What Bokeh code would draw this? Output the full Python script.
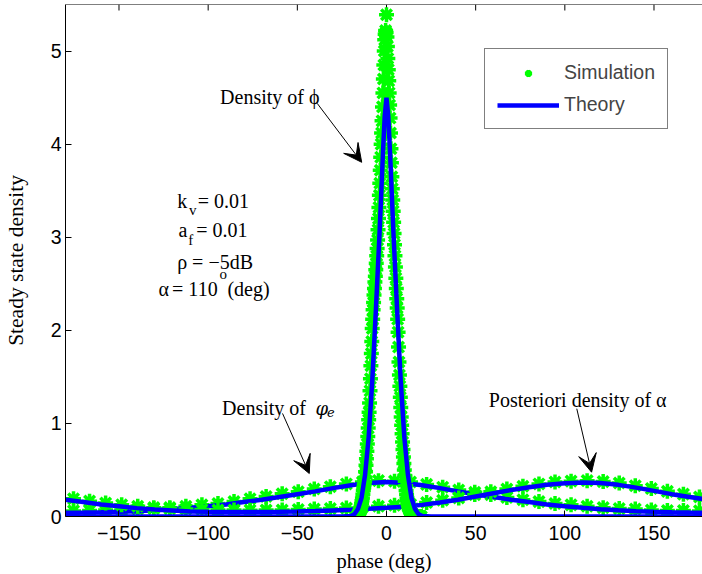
from bokeh.plotting import figure
from bokeh.models import (Range1d, FixedTicker, Legend, LegendItem,
                          Arrow, VeeHead, Label, Span)
from bokeh.embed import file_html
from bokeh.resources import INLINE

# ---------------- data ----------------
x_ticks = [-150, -100, -50, 0, 50, 100, 150]
x_tick_labels = ["\u2212150", "\u2212100", "\u221250", "0", "50", "100", "150"]
y_ticks = [0, 1, 2, 3, 4, 5]
Y_MAX = 5.5

# Theory: density of phi (narrow peak)
phi_th_x = [-180, -40, -25, -20, -18, -16, -14, -12, -10, -8, -6, -5, -4, -3, -2, -1, 0,
            1, 2, 3, 4, 5, 6, 8, 10, 12, 14, 16, 18, 20, 25, 40, 180]
phi_th_y = [0, 0, 0, 0.005, 0.025, 0.08, 0.2, 0.45, 0.85, 1.45, 2.2, 2.6, 3.0, 3.45, 3.9, 4.3, 4.5,
            4.3, 3.9, 3.45, 3.0, 2.6, 2.2, 1.45, 0.85, 0.45, 0.2, 0.08, 0.025, 0.005, 0, 0, 0]

# Theory: density of phi_e and posterior density of alpha
th_x = [-180, -170, -160, -150, -140, -130, -120, -110, -100, -90, -80, -70, -60, -50, -40,
        -30, -20, -10, 0, 10, 20, 30, 40, 50, 60, 70, 80, 90, 100, 110, 120, 130, 140, 150,
        160, 170, 180]
phie_th_y = [0.04, 0.042, 0.045, 0.05, 0.057, 0.066, 0.078, 0.093, 0.11, 0.13, 0.155, 0.18,
             0.21, 0.24, 0.27, 0.305, 0.335, 0.36, 0.37, 0.36, 0.335, 0.305, 0.27, 0.24, 0.21,
             0.18, 0.155, 0.13, 0.11, 0.093, 0.078, 0.066, 0.057, 0.05, 0.045, 0.042, 0.04]
alpha_th_y = [0.18, 0.155, 0.13, 0.11, 0.09, 0.075, 0.065, 0.055, 0.05, 0.047, 0.047, 0.048,
              0.05, 0.053, 0.058, 0.065, 0.072, 0.082, 0.093, 0.105, 0.125, 0.15, 0.18, 0.215,
              0.25, 0.285, 0.315, 0.34, 0.357, 0.365, 0.36, 0.34, 0.31, 0.275, 0.24, 0.21, 0.18]

# Simulation: histogram bin centres (9 deg bins)
sim_x = [-175.5, -166.5, -157.5, -148.5, -139.5, -130.5, -121.5, -112.5, -103.5, -94.5,
         -85.5, -76.5, -67.5, -58.5, -49.5, -40.5, -31.5, -22.5, -13.5, -4.5,
         4.5, 13.5, 22.5, 31.5, 40.5, 49.5, 58.5, 67.5, 76.5, 85.5,
         94.5, 103.5, 112.5, 121.5, 130.5, 139.5, 148.5, 157.5, 166.5, 175.5]
phie_sim_y = [0.06, 0.065, 0.07, 0.07, 0.08, 0.085, 0.095, 0.11, 0.125, 0.14,
              0.16, 0.19, 0.215, 0.245, 0.265, 0.295, 0.32, 0.35, 0.37, 0.385,
              0.38, 0.37, 0.345, 0.315, 0.285, 0.26, 0.235, 0.205, 0.18, 0.16,
              0.14, 0.125, 0.11, 0.095, 0.085, 0.08, 0.07, 0.065, 0.065, 0.06]
alpha_sim_y = [0.19, 0.165, 0.145, 0.125, 0.11, 0.095, 0.085, 0.08, 0.075, 0.07,
               0.07, 0.068, 0.07, 0.07, 0.075, 0.08, 0.085, 0.09, 0.1, 0.11,
               0.12, 0.13, 0.15, 0.175, 0.2, 0.235, 0.265, 0.295, 0.325, 0.35,
               0.37, 0.38, 0.385, 0.375, 0.36, 0.33, 0.3, 0.27, 0.24, 0.21]

# Simulation: density of phi (0.25 deg bins near the peak)
phi_sim_x = [-16.5, -16.25, -16.0, -15.75, -15.5, -15.25, -15.0, -14.75, -14.5, -14.25,
             -14.0, -13.75, -13.5, -13.25, -13.0, -12.75, -12.5, -12.25, -12.0, -11.75,
             -11.5, -11.25, -11.0, -10.75, -10.5, -10.25, -10.0, -9.75, -9.5, -9.25,
             -9.0, -8.75, -8.5, -8.25, -8.0, -7.75, -7.5, -7.25, -7.0, -6.75,
             -6.5, -6.25, -6.0, -5.75, -5.5, -5.25, -5.0, -4.75, -4.5, -4.25,
             -4.0, -3.75, -3.5, -3.25, -3.0, -2.75, -2.5, -2.25, -2.0, -1.75,
             -1.5, -1.25, -1.0, -0.75, -0.5, -0.25, 0.0, 0.25, 0.5, 0.75,
             1.0, 1.25, 1.5, 1.75, 2.0, 2.25, 2.5, 2.75, 3.0, 3.25,
             3.5, 3.75, 4.0, 4.25, 4.5, 4.75, 5.0, 5.25, 5.5, 5.75,
             6.0, 6.25, 6.5, 6.75, 7.0, 7.25, 7.5, 7.75, 8.0, 8.25,
             8.5, 8.75, 9.0, 9.25, 9.5, 9.75, 10.0, 10.25, 10.5, 10.75,
             11.0, 11.25, 11.5, 11.75, 12.0, 12.25, 12.5, 12.75, 13.0, 13.25,
             13.5, 13.75, 14.0, 14.25, 14.5, 14.75, 15.0, 15.25, 15.5, 15.75,
             16.0, 16.25, 16.5, 16.75, 17.0, 17.25, 17.5, 17.75, 18.0, 18.25,
             18.5, 18.75, 19.0, 19.25, 19.5]
phi_sim_y = [0.0, 0.01, 0.01, 0.02, 0.03, 0.04, 0.05, 0.07, 0.09, 0.11,
             0.14, 0.17, 0.2, 0.24, 0.28, 0.31, 0.34, 0.38, 0.42, 0.48,
             0.55, 0.62, 0.7, 0.78, 0.86, 0.95, 1.04, 1.12, 1.22, 1.35,
             1.48, 1.62, 1.75, 1.88, 2.02, 2.12, 2.22, 2.3, 2.38, 2.45,
             2.52, 2.58, 2.65, 2.72, 2.8, 2.88, 2.97, 3.08, 3.2, 3.32,
             3.45, 3.58, 3.72, 3.86, 4.0, 4.12, 4.25, 4.4, 4.55, 4.7,
             4.85, 5.0, 5.12, 5.18, 5.22, 5.2, 5.39, 5.15, 5.05, 4.92,
             4.8, 4.68, 4.55, 4.42, 4.28, 4.12, 3.95, 3.8, 3.65, 3.52,
             3.4, 3.28, 3.16, 3.04, 2.92, 2.8, 2.68, 2.56, 2.45, 2.34,
             2.24, 2.12, 1.98, 1.82, 1.66, 1.52, 1.4, 1.28, 1.17, 1.07,
             0.98, 0.89, 0.8, 0.72, 0.64, 0.57, 0.5, 0.44, 0.38, 0.33,
             0.28, 0.24, 0.2, 0.17, 0.14, 0.12, 0.1, 0.08, 0.07, 0.06,
             0.05, 0.04, 0.03, 0.03, 0.02, 0.02, 0.02, 0.01, 0.01, 0.01,
             0.01, 0.0, 0.01, 0.0, 0.0, 0.0, 0.0, 0.0, 0.0, 0.0,
             0.0, 0.0, 0.0, 0.0, 0.0]

# ---------------- styles ----------------
GREEN = "#00ff00"
BLUE = "#0000ff"
SERIF = "Liberation Serif"
SANS = "Liberation Sans"
MSIZE = 15
MLW = 3.5
TICK_LEN = 6 / 93.09   # inward tick length of the top spine, in data units

p = figure(width=702, height=574, x_range=Range1d(-180, 177.2), y_range=Range1d(0, Y_MAX),
           output_backend="svg", toolbar_location=None,
           min_border_left=59, min_border_right=0, min_border_top=4, min_border_bottom=58,
           outline_line_color=None,
           background_fill_color="white", border_fill_color="white")
p.grid.visible = False

for ax in (p.xaxis[0], p.yaxis[0]):
    ax.axis_line_color = "black"
    ax.major_tick_line_color = "black"
    ax.major_tick_in = 6
    ax.major_tick_out = 0
    ax.minor_tick_line_color = None
    ax.minor_tick_in = 0
    ax.minor_tick_out = 0
    ax.major_label_text_font = SANS
    ax.major_label_text_font_size = "19.5px"
    ax.major_label_text_color = "black"
    ax.axis_label_text_font = SERIF
    ax.axis_label_text_font_style = "normal"
    ax.axis_label_text_color = "black"

p.xaxis.ticker = FixedTicker(ticks=x_ticks)
p.xaxis.major_label_overrides = {t: s for t, s in zip(x_ticks, x_tick_labels)}
p.xaxis.major_label_standoff = 9
p.xaxis.axis_label = "phase (deg)"
p.xaxis.axis_label_standoff = 7
p.xaxis.axis_label_text_font_size = "20.5px"
p.yaxis.ticker = FixedTicker(ticks=y_ticks)
p.yaxis.major_label_standoff = 4
p.yaxis.axis_label = "Steady state density"
p.yaxis.axis_label_standoff = 20
p.yaxis.axis_label_text_font_size = "21.5px"

# top spine with inward ticks
p.add_layout(Span(location=Y_MAX, dimension="width", line_color="black", line_width=1))
p.segment(x0=x_ticks, y0=[Y_MAX] * len(x_ticks), x1=x_ticks,
          y1=[Y_MAX - TICK_LEN] * len(x_ticks), line_color="black", line_width=1)

# ---------------- marks ----------------
r_sim_e = p.scatter(sim_x, phie_sim_y, marker="asterisk", size=MSIZE, line_color=GREEN, line_width=MLW)
r_th_e = p.line(th_x, phie_th_y, line_color=BLUE, line_width=4.5)
p.scatter(sim_x, alpha_sim_y, marker="asterisk", size=MSIZE, line_color=GREEN, line_width=MLW)
p.line(th_x, alpha_th_y, line_color=BLUE, line_width=4.5)
p.scatter(phi_sim_x, phi_sim_y, marker="asterisk", size=MSIZE, line_color=GREEN, line_width=MLW)
p.line(phi_th_x, phi_th_y, line_color=BLUE, line_width=4.5)

# ---------------- legend ----------------
legend = Legend(items=[LegendItem(label="Simulation", renderers=[r_sim_e]),
                       LegendItem(label="Theory", renderers=[r_th_e])],
                location=(419, 387), border_line_color="black", border_line_width=1,
                background_fill_color="white", background_fill_alpha=1.0,
                label_text_font=SANS, label_text_font_size="19.5px",
                glyph_width=62, glyph_height=18, label_height=18, label_standoff=5,
                padding=12, spacing=9, margin=0)
p.add_layout(legend)

# ---------------- annotations ----------------
def lab(x, y, text, size="20px", font=SERIF, style="normal", align="left"):
    p.add_layout(Label(x=x, y=y, text=text, text_font=font, text_font_size=size,
                       text_font_style=style, text_align=align,
                       text_baseline="alphabetic", text_color="black"))

def arrow(x0, y0, x1, y1):
    p.add_layout(Arrow(end=VeeHead(size=18, fill_color="black", line_color="black"),
                       x_start=x0, y_start=y0, x_end=x1, y_end=y1,
                       line_color="black", line_width=1))

lab(-93.3, 4.507, "Density of \u03d5")
arrow(-38.9, 4.439, -13.9, 3.805)

lab(-92.2, 1.161, "Density of")
lab(-39.8, 1.161, "\u03c6", font="DejaVu Serif", style="italic", size="18px")
lab(-33.3, 1.118, "e", font="DejaVu Serif", style="italic", size="13px")
arrow(-58.3, 1.107, -43.3, 0.462)

lab(57.4, 1.247, "Posteriori density of \u03b1")
arrow(106.7, 1.158, 115.0, 0.476)

lab(-117.4, 3.386, "k")
lab(-110.8, 3.289, "v", size="15px")
lab(-105.8, 3.386, "= 0.01")
lab(-116.7, 3.074, "a")
lab(-111.1, 2.966, "f", size="15px")
lab(-106.7, 3.074, "= 0.01")
lab(-117.4, 2.733, "\u03c1 = \u22125dB")
lab(-127.8, 2.447, "\u03b1")
lab(-120.3, 2.447, "=")
lab(-111.1, 2.447, "110")
lab(-93.6, 2.61, "o", size="15px")
lab(-89.2, 2.447, "(deg)")

open("out.html", "w").write(file_html(p, INLINE))
